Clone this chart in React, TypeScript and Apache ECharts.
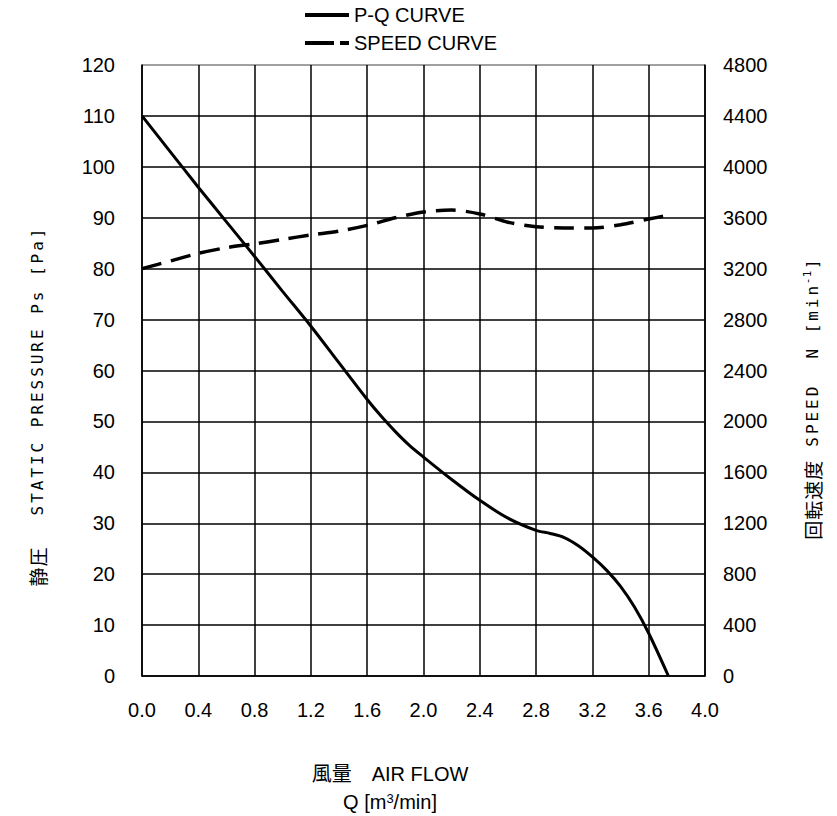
import React, { useEffect, useRef } from "react";
import * as echarts from "echarts";

const pqFlow = [0, 0.2, 0.4, 0.6, 0.8, 1.0, 1.2, 1.4, 1.6, 1.7, 1.8, 1.9, 2.0, 2.2, 2.4, 2.6, 2.8, 2.9, 3.0, 3.1, 3.2, 3.3, 3.4, 3.5, 3.6, 3.74];
const pqPressure = [110, 103, 96, 89.2, 82.4, 75.5, 68.7, 61.5, 54.3, 51, 48, 45.3, 43, 38.6, 34.5, 31, 28.6, 28, 27.2, 25.6, 23.4, 20.8, 17.6, 13.5, 8.4, 0];

const speedFlow = [0, 0.2, 0.4, 0.6, 0.8, 1.0, 1.2, 1.4, 1.6, 1.8, 2.0, 2.2, 2.4, 2.6, 2.8, 3.0, 3.2, 3.4, 3.6, 3.72];
const speedValues = [3200, 3260, 3320, 3365, 3395, 3430, 3465, 3495, 3540, 3600, 3645, 3660, 3630, 3565, 3530, 3520, 3520, 3545, 3590, 3615];

const legendNames = ["P-Q CURVE", "SPEED CURVE"];
const xLabel1 = "風量　AIR FLOW";
const leftNameCjk = "静圧";
const leftNameLatin = "STATIC PRESSURE Ps [Pa]";
const rightNameCjk = "回転速度";
const rightNameLatin = "SPEED  N [min";
const rightNameSup = "-1";
const rightNameEnd = "]";

// monospace-cell rich text: each character in its own fixed-width token
function cells(str: string, style: string) {
  return Array.from(str)
    .map((ch) => `{${style}|${ch === " " ? "\u00a0" : ch}}`)
    .join("");
}

export default function App() {
  const ref = useRef<HTMLDivElement>(null);
  useEffect(() => {
    document.body.style.margin = "0";
    const chart = echarts.init(ref.current!, null, { renderer: "svg" });
    const black = "#000";
    const splitColors = Array.from({ length: 12 }, () => black).concat(["#808080"]);
    const pitch = 12.6;
    const nameRich = {
      c: { fontSize: 19, fontFamily: "Noto Sans CJK JP", fill: black, color: black, width: 20, align: "center" },
      l: { fontSize: 16, fontFamily: "DejaVu Sans Mono", fill: black, color: black, width: pitch, align: "center" },
      gl: { fontSize: 16, width: 30 },
      gr: { fontSize: 16, width: 12 },
      s: { fontSize: 11, fontFamily: "DejaVu Sans Mono", fill: black, color: black, width: 7, align: "center", verticalAlign: "top", padding: [0, 0, 9, 0] },
    };
    chart.setOption({
      animation: false,
      backgroundColor: "#fff",
      textStyle: { fontFamily: "Liberation Sans", color: black },
      legend: {
        orient: "vertical",
        left: 303,
        top: 5,
        itemWidth: 44,
        itemHeight: 14,
        itemGap: 8,
        padding: 0,
        itemStyle: { opacity: 0 },
        lineStyle: { width: 4, color: black },
        textStyle: { fontSize: 20, color: black, fontFamily: "Liberation Sans" },
        data: [
          { name: legendNames[0] },
          { name: legendNames[1], lineStyle: { width: 4, color: black, type: [29, 6] } },
        ],
      },
      grid: { left: 142, right: 132, top: 65, bottom: 140, containLabel: false },
      xAxis: {
        type: "value",
        min: 0,
        max: 4,
        interval: 0.4,
        axisLine: { show: true, lineStyle: { color: black, width: 1.5 } },
        axisTick: { show: false },
        axisLabel: { fontSize: 20, color: black, margin: 24, formatter: (v: number) => v.toFixed(1) },
        splitLine: { show: true, lineStyle: { color: black, width: 1.5 } },
      },
      yAxis: [
        {
          type: "value",
          min: 0,
          max: 120,
          interval: 10,
          axisLine: { show: true, lineStyle: { color: black, width: 1.5 } },
          axisTick: { show: false },
          axisLabel: { fontSize: 20, color: black, margin: 27, formatter: (v: number) => String(v) },
          splitLine: { show: true, lineStyle: { color: splitColors, width: 1.5 } },
        },
        {
          type: "value",
          min: 0,
          max: 4800,
          interval: 400,
          position: "right",
          axisLine: { show: true, lineStyle: { color: black, width: 1.5 } },
          axisTick: { show: false },
          axisLabel: { fontSize: 20, color: black, margin: 18, formatter: (v: number) => String(v) },
          splitLine: { show: false },
        },
      ],
      series: [
        {
          name: legendNames[0],
          type: "line",
          yAxisIndex: 0,
          symbol: "none",
          smooth: 0.3,
          lineStyle: { color: black, width: 3 },
          itemStyle: { color: black },
          data: pqFlow.map((q, i) => [q, pqPressure[i]]),
        },
        {
          name: legendNames[1],
          type: "line",
          yAxisIndex: 1,
          symbol: "none",
          smooth: 0.3,
          lineStyle: { color: black, width: 3.5, type: [20, 10] },
          itemStyle: { color: black },
          data: speedFlow.map((q, i) => [q, speedValues[i]]),
        },
      ],
      graphic: [
        {
          type: "text",
          x: 390,
          y: 774,
          style: {
            text: xLabel1,
            fill: black,
            font: '20px "Liberation Sans", "Noto Sans CJK JP"',
            align: "center",
            verticalAlign: "middle",
          },
        },
        {
          type: "text",
          x: 390,
          y: 802,
          style: {
            text: "Q [m{sup|3}/min]",
            fill: black,
            fontSize: 20,
            fontFamily: "Liberation Sans",
            align: "center",
            verticalAlign: "middle",
            rich: {
              sup: { fontSize: 13, fill: black, color: black, verticalAlign: "top", padding: [0, 0, 8, 0], fontFamily: "Liberation Sans" },
            },
          },
        },
        {
          type: "text",
          x: 37,
          y: 407,
          rotation: Math.PI / 2,
          style: {
            text: cells(leftNameCjk, "c") + "{gl|\u00a0}" + cells(leftNameLatin, "l"),
            fill: black,
            align: "center",
            verticalAlign: "middle",
            rich: nameRich,
          },
        },
        {
          type: "text",
          x: 812,
          y: 399,
          rotation: Math.PI / 2,
          style: {
            text:
              cells(rightNameCjk, "c") + "{gr|\u00a0}" + cells(rightNameLatin, "l") + cells(rightNameSup, "s") + cells(rightNameEnd, "l"),
            fill: black,
            align: "center",
            verticalAlign: "middle",
            rich: nameRich,
          },
        },
      ],
    });
    return () => chart.dispose();
  }, []);
  return <div ref={ref} style={{ position: "absolute", left: 0, top: 0, width: 837, height: 816 }} />;
}
